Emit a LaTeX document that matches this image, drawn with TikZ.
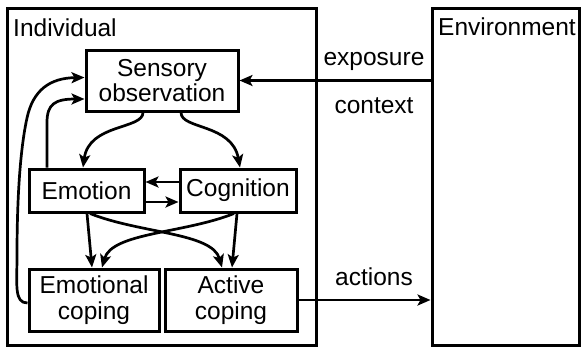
\documentclass[tikz,border=0pt]{standalone}
\usepackage{fontspec}
\setmainfont{Liberation Sans}
\usetikzlibrary{arrows.meta}
\begin{document}
\begin{tikzpicture}[x=1pt,y=-1pt,
  box/.style={draw, line width=3pt, inner sep=0pt, align=center, font=\fontsize{24.5}{25.5}\selectfont},
  frame/.style={draw, line width=3pt, inner sep=0pt},
  lbl/.style={inner sep=0pt, anchor=base, font=\fontsize{24.5}{25.5}\selectfont},
  arr/.style={line width=2.7pt, -{Stealth[length=13pt,width=11pt,inset=3pt]}}]
\useasboundingbox (0,0) rectangle (581,349);
\node[frame, minimum width=309pt, minimum height=337pt] (ind) at (161.5,176.5) {};
\node[frame, minimum width=147pt, minimum height=337pt] (env) at (505.5,176.5) {};
\node[lbl, anchor=base west] (tind) at (13,36) {Individual};
\node[lbl, anchor=base west] (tenv) at (438,35) {Environment};
\node[lbl] (texp) at (374,65) {exposure};
\node[lbl] (tctx) at (374,113) {context};
\node[lbl] (tact) at (374,285) {actions};

\node[box, minimum width=152pt, minimum height=61pt] (sens) at (162,80.5) {Sensory\\observation};
\node[box, minimum width=115pt, minimum height=43pt] (emo) at (86.5,190.5) {Emotion};
\node[box, minimum width=116pt, minimum height=43pt] (cog) at (238,190.5) {Cognition};
\node[box, minimum width=130pt, minimum height=62pt] (ecop) at (94,300) {Emotional\\coping};
\node[box, minimum width=132pt, minimum height=62pt] (acop) at (231,300) {Active\\coping};

\draw[arr] (env.west |- sens.east) -- (sens.east);
\draw[arr] (acop.east) -- (acop.east -| env.west);
\draw[arr] ([xshift=-19pt]sens.south) .. controls +(0,17) and +(6,-44) .. ([xshift=-3.5pt]emo.north);
\draw[arr] ([xshift=19pt]sens.south) .. controls +(0,17) and +(-8,-44) .. ([xshift=2pt]cog.north);
\draw[arr] ([yshift=8.5pt]cog.west) -- ([yshift=8.5pt]emo.east);
\draw[arr] ([yshift=-11.5pt]emo.east) -- ([yshift=-11.5pt]cog.west);
\draw[arr] ([xshift=0.5pt]emo.south) -- ([xshift=-2pt]ecop.north);
\draw[arr] ([xshift=3.5pt]emo.south) .. controls +(50,20) and +(-10,-35) .. ([xshift=-9pt]acop.north);
\draw[arr] ([xshift=-1pt]cog.south) -- ([xshift=1pt]acop.north);
\draw[arr] ([xshift=-4pt]cog.south) .. controls +(-50,20) and +(10,-35) .. ([xshift=8pt]ecop.north);
\draw[arr] ([xshift=-39.5pt]emo.north) -- ++(0,-45) .. controls +(0,-18) and +(-30,0) .. ([yshift=-18.5pt]sens.west);
\draw[arr] ([yshift=-3pt]ecop.west) .. controls (14,303) and (17,285) .. (17,255)
  .. controls (17,200) and (20,150) .. (27,118) .. controls (33,90) and (50,78) .. ([yshift=3pt]sens.west);
\end{tikzpicture}
\end{document}
